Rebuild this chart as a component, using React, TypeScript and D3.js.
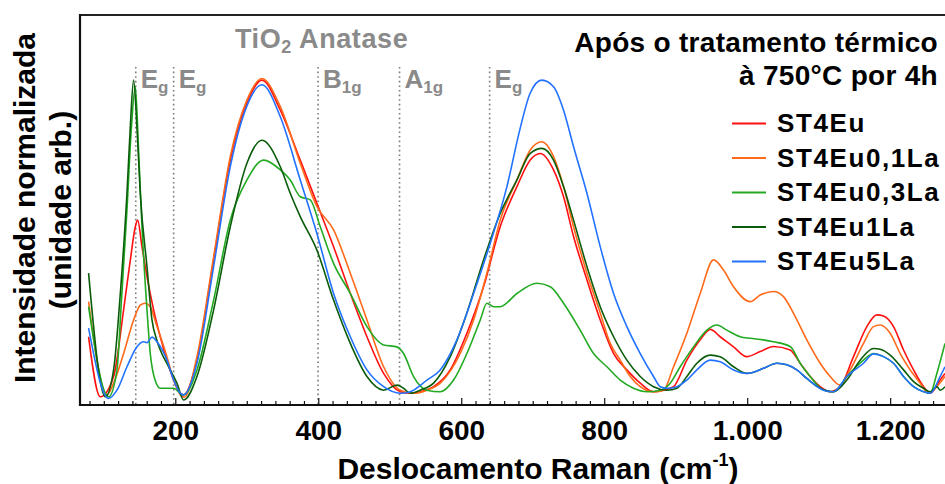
import React from "react";
import * as d3 from "d3";

// Raman shift (cm-1), normalized intensity (a.u.)
const ST4Eu: [number, number][] = [
  [78, 17.5], [94.4, 2.1], [113, 7.3], [127, 24.4], [136.4, 37.2], [143.4, 45.7], [146.6, 47.4], [152.7, 40.6],
  [159.7, 32.9], [169, 24.4], [178.3, 17.5], [187.6, 11.5], [197, 6.4], [206.3, 3.0], [211, 2.6], [229.6, 11.5],
  [252.9, 37.2], [276.2, 62.8], [299.5, 77.4], [320.5, 83.3], [346.2, 75.6], [374.1, 62.8], [397.4, 51.7],
  [420.7, 40.6], [444.1, 28.6], [467.4, 17.5], [490.7, 8.1], [514, 3.4], [528, 3.0], [542, 3.4], [560.6, 4.7],
  [583.9, 9.0], [607.2, 18.4], [630.5, 30.3], [653.8, 45.7], [677.2, 56.0], [695.8, 62.8], [709.8, 64.5],
  [728.4, 60.3], [742.4, 53.4], [756.4, 43.2], [775.1, 32.1], [793.7, 21.8], [812.4, 13.2], [831, 9.0],
  [849.7, 5.6], [868.3, 3.4], [882.3, 3.8], [896.3, 4.7], [914.9, 11.5], [933.6, 16.7], [947.6, 19.4],
  [961.5, 17.5], [980.2, 14.9], [998.8, 12.4], [1017.5, 13.7], [1036.1, 15.0], [1059.4, 14.1], [1073.4, 10.7],
  [1087.4, 7.3], [1101.4, 4.7], [1115.4, 3.4], [1129.4, 4.7], [1148, 12.4], [1166.7, 20.1], [1180.7, 23.1],
  [1190, 22.8], [1204, 20.1], [1218, 14.1], [1232, 9.0], [1246, 4.7], [1255.3, 3.0], [1269.2, 6.4], [1276, 8.1],
];

const ST4Eu01La: [number, number][] = [
  [78, 26.5], [103.8, 2.6], [113, 5.6], [127, 13.2], [141, 21.8], [150.3, 25.6], [157.3, 26.1], [164.3, 25.2],
  [173.7, 20.1], [187.6, 12.4], [197, 6.4], [206.3, 2.6], [212, 2.0], [229.6, 12.4], [252.9, 38.0],
  [276.2, 63.7], [299.5, 78.2], [320.5, 83.7], [346.2, 76.5], [374.1, 62.0], [397.4, 50.9], [420.7, 44.9],
  [444.1, 33.8], [467.4, 21.8], [490.7, 9.8], [514, 3.8], [532.6, 3.0], [551.3, 3.8], [569.9, 5.6],
  [597.9, 13.2], [616.6, 21.8], [635.2, 33.8], [653.8, 47.4], [677.2, 57.7], [695.8, 65.4], [712.1, 67.5],
  [728.4, 63.7], [742.4, 56.0], [756.4, 45.7], [775.1, 33.8], [793.7, 23.6], [807.7, 15.8], [821.7, 11.5],
  [835.7, 7.3], [849.7, 4.7], [868.3, 3.4], [882.3, 3.8], [896.3, 9.8], [914.9, 18.4], [933.6, 28.6],
  [952.2, 37.2], [966.2, 34.6], [980.2, 30.3], [1003.5, 26.5], [1017.5, 28.2], [1036.1, 29.1], [1050.1, 27.8],
  [1064.1, 23.5], [1082.7, 16.7], [1101.4, 10.7], [1115.4, 7.3], [1129.4, 5.1], [1143.4, 9.0], [1162, 15.8],
  [1176, 20.1], [1185.3, 20.5], [1199.3, 18.4], [1213.3, 13.2], [1227.3, 9.0], [1241.3, 5.6], [1253, 3.0],
  [1264.6, 4.7], [1276, 7.3],
];

const ST4Eu03La: [number, number][] = [
  [78, 25.2], [106.1, 2.1], [117.7, 9.0], [124, 26.9], [131.7, 50.0], [138, 71.4], [143.4, 81.6], [148, 65],
  [152.7, 45.7], [159.7, 24.4], [164.3, 13.2], [171, 6.4], [178.3, 4.3], [190, 4.3], [197, 4.3], [206.3, 3.0],
  [211, 2.6], [229.6, 9.0], [252.9, 26.9], [276.2, 47.4], [299.5, 57.7], [322.8, 62.8], [346.2, 60.3],
  [360.1, 57.7], [374.1, 53.4], [388.1, 52.6], [402.1, 45.7], [420.7, 36.3], [444.1, 28.6], [467.4, 20.1],
  [490.7, 15.4], [509.3, 14.9], [518.6, 13.2], [532.6, 7.3], [551.3, 3.8], [569.9, 3.4], [588.6, 6.4],
  [607.2, 13.2], [625.9, 21.8], [635.2, 26.1], [644.5, 25.2], [653.8, 25.2], [677.2, 28.6], [705.1, 31.2],
  [723.8, 30.3], [742.4, 26.1], [765.7, 19.2], [784.4, 13.2], [803, 9.8], [821.7, 6.4], [840.3, 4.3],
  [859, 3.4], [877.6, 3.8], [891.6, 5.6], [905.6, 9.8], [924.2, 14.9], [942.9, 19.2], [956.9, 20.5],
  [970.9, 19.2], [989.5, 17.5], [1003.5, 17.1], [1022.1, 16.7], [1036.1, 16.2], [1059.4, 15.0], [1073.4, 10.7],
  [1087.4, 7.3], [1106.1, 3.8], [1120.1, 3.4], [1138.7, 7.3], [1162, 11.5], [1176, 13.2], [1190, 12.4],
  [1204, 10.7], [1218, 7.3], [1232, 4.7], [1246, 3.4], [1255.3, 3.0], [1264.6, 8.1], [1276, 15.8],
];

const ST4Eu1La: [number, number][] = [
  [78, 33.8], [101.4, 2.1], [113, 9.0], [122.4, 28.6], [131.7, 54.3], [136.4, 71.4], [141, 83.3], [146, 70],
  [150.3, 54.3], [159.7, 35.5], [166.7, 21.8], [173.7, 16.5], [178.3, 14.1], [190, 9.8], [201.6, 5.6],
  [211, 1.3], [229.6, 7.3], [252.9, 24.4], [276.2, 45.7], [299.5, 62.0], [320.5, 67.9], [346.2, 61.1],
  [360.1, 54.3], [374.1, 48.3], [397.4, 39.7], [420.7, 26.9], [444.1, 15.8], [467.4, 7.3], [490.7, 3.8],
  [509.3, 5.1], [518.6, 4.3], [528, 3.0], [542, 3.8], [560.6, 5.6], [583.9, 12.4], [607.2, 23.6],
  [630.5, 37.2], [653.8, 49.1], [677.2, 57.7], [695.8, 64.5], [712.1, 65.8], [728.4, 62.8], [742.4, 56.0],
  [756.4, 47.4], [775.1, 35.5], [793.7, 25.2], [812.4, 17.5], [831, 11.5], [849.7, 7.3], [868.3, 4.7],
  [887, 3.8], [901, 4.3], [914.9, 7.3], [928.9, 10.7], [947.6, 12.8], [961.5, 12.4], [980.2, 9.8],
  [998.8, 8.1], [1022.1, 9.4], [1040.8, 10.7], [1054.8, 10.3], [1068.8, 9.0], [1082.7, 6.8], [1101.4, 4.3],
  [1120.1, 3.4], [1138.7, 6.4], [1157.3, 11.5], [1176, 14.5], [1185.3, 14.3], [1199.3, 12.8], [1218, 9.0],
  [1232, 6.0], [1246, 4.3], [1255.3, 3.4], [1264.6, 4.7], [1269.2, 3.8], [1276, 4.7],
];

const ST4Eu5La: [number, number][] = [
  [78, 19.7], [106.1, 1.7], [117.7, 3.8], [131.7, 9.8], [145.5, 14.9], [155, 16.2], [159.7, 16.0],
  [166.7, 17.4], [173.7, 16.2], [187.6, 11.5], [197, 6.4], [206.3, 3.0], [211, 2.6], [229.6, 10.7],
  [252.9, 35.5], [276.2, 61.1], [299.5, 76.7], [320.5, 82.1], [346.2, 73.9], [374.1, 57.7], [397.4, 44.0],
  [420.7, 28.6], [444.1, 17.5], [467.4, 9.0], [490.7, 4.7], [514, 3.0], [528, 3.4], [551.3, 6.4],
  [569.9, 9.0], [593.2, 16.7], [616.6, 28.6], [639.9, 41.5], [663.2, 56.0], [681.8, 71.0], [695.8, 80.0],
  [712.1, 83.3], [728.4, 81.6], [742.4, 75.6], [756.4, 66.2], [775.1, 54.3], [793.7, 40.6], [812.4, 28.6],
  [831, 20.1], [849.7, 13.2], [868.3, 7.3], [877.6, 4.7], [887, 4.3], [901, 4.7], [914.9, 6.4],
  [928.9, 9.0], [947.6, 11.5], [961.5, 11.1], [980.2, 9.0], [998.8, 8.1], [1022.1, 9.4], [1040.8, 10.7],
  [1054.8, 10.3], [1068.8, 9.0], [1082.7, 6.8], [1106.1, 3.8], [1120.1, 3.4], [1138.7, 7.3], [1162, 10.7],
  [1176, 13.1], [1190, 12.4], [1204, 10.7], [1218, 7.3], [1232, 4.7], [1246, 3.4], [1255.3, 3.0],
  [1269.2, 7.3], [1276, 9.8],
];

const seriesNames = ["ST4Eu", "ST4Eu0,1La", "ST4Eu0,3La", "ST4Eu1La", "ST4Eu5La"];
const seriesData = [ST4Eu, ST4Eu01La, ST4Eu03La, ST4Eu1La, ST4Eu5La];
const seriesColors = ["#ff1010", "#ff6a1a", "#22aa22", "#0a5c0a", "#2272ff"];

const majorTicks = [200, 400, 600, 800, 1000, 1200];
const modePositions = [144, 197, 399, 513, 639];
const modeMain = ["E", "E", "B", "A", "E"];
const modeSub = ["g", "g", "1g", "1g", "g"];

const W = 945;
const H = 484;
const M = { left: 80, right: 945, top: 15, bottom: 405 };

const ptBR = d3.formatLocale({ decimal: ",", thousands: ".", grouping: [3], currency: ["R$", ""] });
const fmt = ptBR.format(",d");

export default function App() {
  const x = d3.scaleLinear().domain([66, 1276]).range([M.left, M.right]);
  const y = d3.scaleLinear().domain([0, 100]).range([M.bottom, M.top]);
  const line = d3
    .line<[number, number]>()
    .x((d) => x(d[0]))
    .y((d) => y(d[1]))
    .curve(d3.curveMonotoneX);
  const minorTicks = d3.range(80, 1276, 20);
  const font = "'Liberation Sans', Arial, sans-serif";
  const gray = "#8a8a8a";

  return (
    <svg
      width={W}
      height={H}
      style={{ position: "absolute", left: 0, top: 0, background: "#fff" }}
      fontFamily={font}
      fontWeight="bold"
    >
      <defs>
        <clipPath id="plot">
          <rect x={M.left} y={M.top} width={M.right - M.left} height={M.bottom - M.top} />
        </clipPath>
      </defs>

      {/* mode dotted lines */}
      {modePositions.map((m, i) => (
        <g key={"m" + i}>
          <line
            x1={x(m)}
            x2={x(m)}
            y1={67}
            y2={M.bottom}
            stroke="#7a7a7a"
            strokeWidth={1.6}
            strokeDasharray="1.6 3"
          />
          <text x={x(m) + 5} y={88} fill={gray} fontSize={26}>
            {modeMain[i]}
            <tspan fontSize={17} dy={5}>
              {modeSub[i]}
            </tspan>
          </text>
        </g>
      ))}

      {/* curves */}
      <g clipPath="url(#plot)">
        {seriesData.map((s, i) => (
          <path key={seriesNames[i]} d={line(s) || ""} fill="none" stroke={seriesColors[i]} strokeWidth={1.6} />
        ))}
      </g>

      {/* frame */}
      <line x1={M.left} x2={M.right} y1={M.top} y2={M.top} stroke="#222" strokeWidth={2} />
      <line x1={M.left} x2={M.left} y1={M.top - 1} y2={M.bottom + 1} stroke="#111" strokeWidth={2.2} />
      <line x1={M.left - 1} x2={M.right} y1={M.bottom} y2={M.bottom} stroke="#111" strokeWidth={2.2} />

      {/* ticks */}
      {minorTicks.map((t) => (
        <line
          key={"t" + t}
          x1={x(t)}
          x2={x(t)}
          y1={M.bottom}
          y2={M.bottom - (t % 200 === 0 ? 7 : 4)}
          stroke="#111"
          strokeWidth={1.2}
        />
      ))}
      {majorTicks.map((t) => (
        <text key={"l" + t} x={x(t)} y={440} textAnchor="middle" fontSize={28} fill="#000">
          {fmt(t)}
        </text>
      ))}

      {/* axis titles */}
      <text x={538} y={479} textAnchor="middle" fontSize={30} fill="#000">
        Deslocamento Raman (cm
        <tspan fontSize={18} dy={-13}>
          -1
        </tspan>
        <tspan dy={13}>)</tspan>
      </text>
      <text transform="translate(35,208) rotate(-90)" textAnchor="middle" fontSize={30} fill="#000">
        Intensidade normalizada
      </text>
      <text transform="translate(71,210) rotate(-90)" textAnchor="middle" fontSize={30} fill="#000">
        (unidade arb.)
      </text>

      {/* TiO2 Anatase */}
      <text x={235} y={48} fontSize={27} fill={gray} letterSpacing={0.6}>
        TiO
        <tspan fontSize={18} dy={5}>
          2
        </tspan>
        <tspan dy={-5}> Anatase</tspan>
      </text>

      {/* title */}
      <text x={938} y={52} textAnchor="end" fontSize={28} fill="#000" letterSpacing={0.3}>
        Após o tratamento térmico
      </text>
      <text x={938} y={85} textAnchor="end" fontSize={28} fill="#000" letterSpacing={0.3}>
        à 750°C por 4h
      </text>

      {/* legend */}
      {seriesNames.map((n, i) => {
        const by = 132 + i * 34.5;
        return (
          <g key={"lg" + n}>
            <line x1={732} x2={766} y1={by - 8.5} y2={by - 8.5} stroke={seriesColors[i]} strokeWidth={2} />
            <text x={777} y={by} fontSize={26} fill="#000" letterSpacing={1.6}>
              {n}
            </text>
          </g>
        );
      })}
    </svg>
  );
}
